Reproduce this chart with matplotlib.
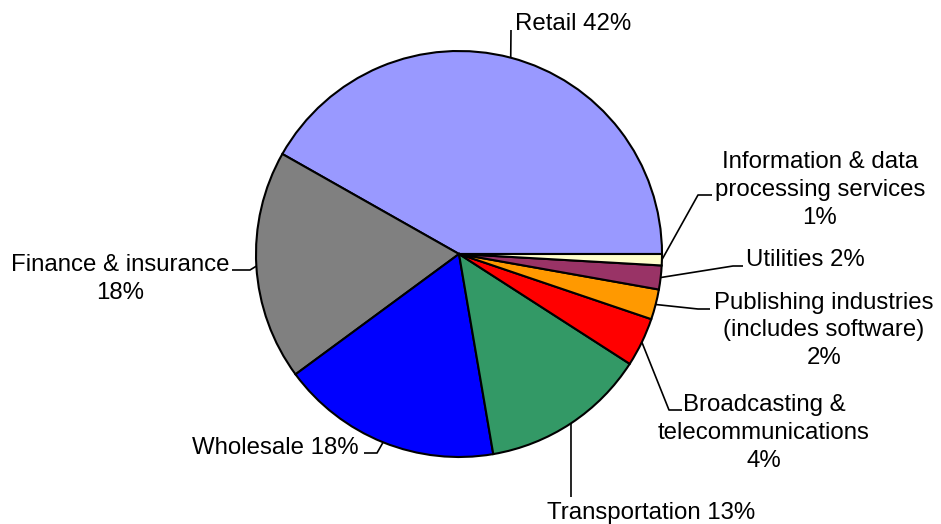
import math

import matplotlib
matplotlib.use("Agg")
import matplotlib.pyplot as plt

# slice data (percent), counter-clockwise from 3 o'clock
sectors = [
    "Retail",
    "Finance & insurance",
    "Wholesale",
    "Transportation",
    "Broadcasting & telecommunications",
    "Publishing industries (includes software)",
    "Utilities",
    "Information & data processing services",
]
shares = [41.8, 18.3, 17.6, 13.2, 3.9, 2.4, 1.9, 0.9]
colors = ["#9999FF", "#808080", "#0000FF", "#339966",
          "#FF0000", "#FF9900", "#993366", "#FFFFCC"]

# label text lines, {p} gets the rounded share
label_lines = [
    ["Retail {p}%"],
    ["Finance & insurance", "{p}%"],
    ["Wholesale {p}%"],
    ["Transportation {p}%"],
    ["Broadcasting &", "telecommunications", "{p}%"],
    ["Publishing industries", "(includes software)", "{p}%"],
    ["Utilities {p}%"],
    ["Information & data", "processing services", "{p}%"],
]

W, H = 941, 524
CX, CY, R = 459, 254, 203  # pixel coords, y from top

# layout: (x, first baseline, ha, leader knee points) in pixels from top
layout = [
    (515, 29.5, "left", [(511, 30)]),
    (120, 271, "center", [(250, 270), (232, 270)]),
    (359, 454, "right", [(377, 453), (364, 453)]),
    (547, 518.5, "left", [(571, 497)]),
    (764, 411.5, "center", [(669, 410), (682, 410)]),
    (824, 308.5, "center", [(698, 309), (710, 309)]),
    (746, 266, "left", [(733, 266), (743, 266)]),
    (820, 168.5, "center", [(698, 195), (712, 195)]),
]
LINE_STEP = 27.8

plt.rcParams["font.family"] = ["Liberation Sans", "DejaVu Sans"]

fig = plt.figure(figsize=(W / 100, H / 100), dpi=100)
ax = fig.add_axes([0, 0, 1, 1])

wedges, _ = ax.pie(
    shares,
    colors=colors,
    startangle=0,
    counterclock=True,
    center=(CX, H - CY),
    radius=R,
    wedgeprops=dict(edgecolor="black", linewidth=1.5),
)

for w, val, lines, (tx, ty, ha, knees) in zip(wedges, shares, label_lines, layout):
    # leader starts on the rim at the wedge's mid angle
    mid = math.radians((w.theta1 + w.theta2) / 2)
    ex = CX + R * math.cos(mid)
    ey = CY - R * math.sin(mid)
    pts = [(ex, ey)] + knees
    ax.plot([p[0] for p in pts], [H - p[1] for p in pts],
            color="black", linewidth=1.2, solid_capstyle="butt")
    pct = round(val)
    for i, line in enumerate(lines):
        ax.text(tx, H - (ty + i * LINE_STEP), line.format(p=pct),
                ha=ha, va="baseline", fontsize=17.3, color="black")

ax.set_xlim(0, W)
ax.set_ylim(0, H)
ax.set_aspect("equal")
ax.axis("off")

fig.savefig("out.png", dpi=100, facecolor="white")
